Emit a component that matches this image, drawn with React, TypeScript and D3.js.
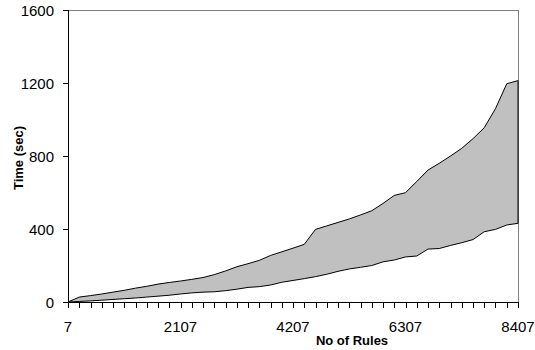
import React from "react";
import * as d3 from "d3";

const categories: number[] = d3.range(41).map((i) => 7 + i * 210);
const lowerValues: number[] = [
  0, 3, 6, 10, 14, 18, 22, 27, 32, 37, 44, 50, 54, 56, 62, 70, 80, 84, 93, 108,
  118, 128, 139, 152, 168, 181, 190, 200, 220, 230, 247, 252, 290, 293, 310, 325,
  342, 385, 398, 422, 431,
];
const upperValues: number[] = [
  0, 27, 35, 44, 54, 64, 76, 86, 98, 107, 115, 124, 134, 150, 170, 193, 210, 228,
  255, 275, 295, 316, 398, 417, 436, 455, 477, 500, 540, 584, 599, 660, 723, 760,
  800, 842, 895, 955, 1060, 1196, 1213,
];
const yTicks: number[] = [0, 400, 800, 1200, 1600];
const xLabelIdx: number[] = [0, 10, 20, 30, 40];

const W = 535;
const H = 350;
const left = 68;
const right = 518;
const top = 10;
const bottom = 302;
const FONT = "'Liberation Sans', Arial, sans-serif";

export default function App() {
  const x = d3.scaleLinear().domain([0, categories.length - 1]).range([left, right]);
  const y = d3.scaleLinear().domain([0, 1600]).range([bottom, top]);
  const idx = d3.range(categories.length);
  const area = d3
    .area<number>()
    .x((i) => x(i))
    .y0((i) => y(lowerValues[i]))
    .y1((i) => y(upperValues[i]));

  return (
    <svg
      width={W}
      height={H}
      style={{ position: "absolute", left: 0, top: 0, display: "block" }}
      fontFamily={FONT}
    >
      <rect width={W} height={H} fill="#fff" />
      <line x1={left} x2={right} y1={top + 0.5} y2={top + 0.5} stroke="#808080" />
      <line x1={right + 0.5} x2={right + 0.5} y1={top} y2={bottom} stroke="#808080" />
      <path d={area(idx) || ""} fill="#C0C0C0" stroke="#000" strokeWidth={1} strokeLinejoin="round" />
      <line x1={left + 0.5} x2={left + 0.5} y1={top} y2={bottom + 0.5} stroke="#000" />
      <line x1={left} x2={right + 1} y1={bottom + 0.5} y2={bottom + 0.5} stroke="#000" />
      {yTicks.map((t) => (
        <g key={t}>
          <line x1={left - 5} x2={left} y1={Math.round(y(t)) + 0.5} y2={Math.round(y(t)) + 0.5} stroke="#000" />
          <text x={54} y={y(t) + 5.5} textAnchor="end" fontSize={15} fill="#000">
            {t}
          </text>
        </g>
      ))}
      {idx.map((i) => (
        <line
          key={i}
          x1={Math.round(x(i)) + 0.5}
          x2={Math.round(x(i)) + 0.5}
          y1={bottom}
          y2={bottom + 6}
          stroke="#000"
        />
      ))}
      {xLabelIdx.map((i) => (
        <text key={i} x={x(i)} y={331.5} textAnchor="middle" fontSize={15} fill="#000">
          {categories[i]}
        </text>
      ))}
      <text x={352} y={345} textAnchor="middle" fontSize={13} fontWeight="bold" fill="#000">
        No of Rules
      </text>
      <text
        transform={`translate(23, ${(top + bottom) / 2 + 2}) rotate(-90)`}
        textAnchor="middle"
        fontSize={13}
        fontWeight="bold"
        fill="#000"
      >
        Time (sec)
      </text>
    </svg>
  );
}
